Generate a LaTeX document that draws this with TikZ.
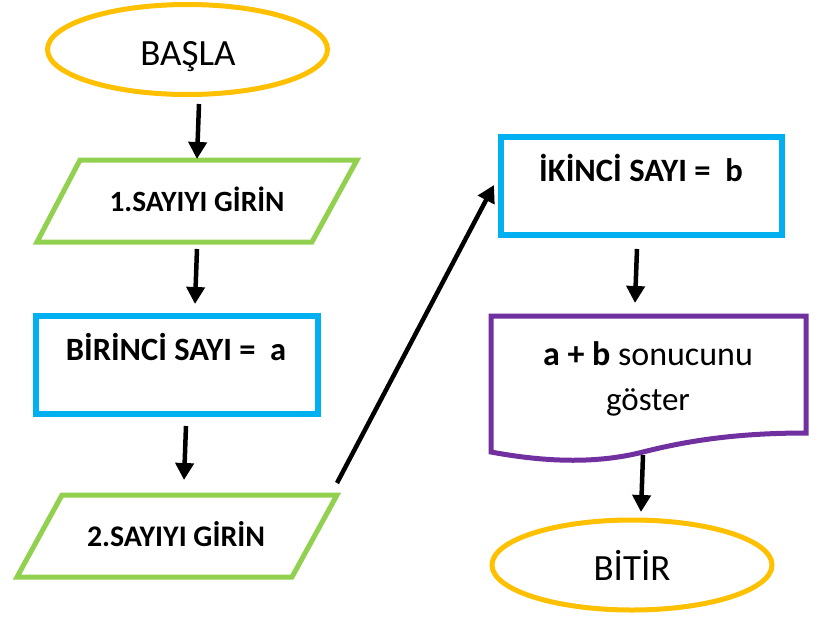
\documentclass[tikz,border=0pt]{standalone}
\usepackage{fontspec}
\setmainfont{Carlito}
\usetikzlibrary{arrows.meta,shapes.geometric}
\definecolor{cOrange}{HTML}{FFC000}
\definecolor{cGreen}{HTML}{92D050}
\definecolor{cBlue}{HTML}{00B0F0}
\definecolor{cPurple}{HTML}{7030A0}
\tikzset{
  term/.style={draw=cOrange,line width=5pt,ellipse,minimum width=280pt,minimum height=90pt,inner sep=0pt},
  procbox/.style={draw=cBlue,line width=5.5pt,rectangle,minimum width=282pt,minimum height=98pt,inner sep=0pt},
  iobox/.style={draw=cGreen,line width=5pt,line join=miter},
  docbox/.style={draw=cPurple,line width=5pt,line join=miter},
  flow/.style={line width=4.5pt,-{Triangle[length=17pt,width=18pt]}},
  lbl/.style={anchor=base,inner sep=0pt,text=black},
}
\begin{document}
\begin{tikzpicture}[x=1pt,y=-1pt]
\useasboundingbox (0,0) rectangle (827,616);
% shapes
\node[term] (start) at (187.5,49.5) {};
\draw[iobox] (80,160) -- (357,160) -- (312,242) -- (37,242) -- cycle;
\node[procbox] (r1) at (177,365) {};
\draw[iobox] (62,495) -- (337,495) -- (292,577) -- (17,577) -- cycle;
\node[procbox,minimum width=281pt] (r2) at (641.5,186) {};
\draw[docbox] (491,452) -- (491,316) -- (806,316) -- (806,433)
  .. controls (740,433) and (690,440) .. (643,452)
  .. controls (600,463) and (550,463) .. cycle;
\node[term] (stop) at (632,565) {};
% texts
\node[lbl,font=\fontsize{37}{42}\selectfont] (tstart) at (188,65) {BAŞLA};
\node[lbl,font=\fontsize{29.4}{34}\selectfont\bfseries] (tin1) at (197,211.7) {1.SAYIYI GİRİN};
\node[lbl,font=\fontsize{32.5}{37}\selectfont\bfseries] (tr1) at (176,360.7) {BİRİNCİ SAYI = \ a};
\node[lbl,font=\fontsize{29.9}{34}\selectfont\bfseries] (tin2) at (176,546.7) {2.SAYIYI GİRİN};
\node[lbl,font=\fontsize{32.6}{37}\selectfont\bfseries] (tr2) at (641,181.7) {İKİNCİ SAYI = \ b};
\node[lbl,font=\fontsize{34}{39}\selectfont] (tdoc1) at (648,365) {\textbf{a + b} sonucunu};
\node[lbl,font=\fontsize{33}{38}\selectfont] (tdoc2) at (648,410) {göster};
\node[lbl,font=\fontsize{37}{42}\selectfont] (tstop) at (632,580) {BİTİR};
% connector end points
\coordinate (a1s) at (199,104); \coordinate (a1e) at (197,159);
\coordinate (a2s) at (197,249); \coordinate (a2e) at (195,304);
\coordinate (a3s) at (186,426); \coordinate (a3e) at (184,480);
\coordinate (a4s) at (337,483); \coordinate (a4e) at (494,185);
\coordinate (a5s) at (637,249); \coordinate (a5e) at (635,303);
\coordinate (a6s) at (643,455); \coordinate (a6e) at (641,512);
\draw[flow] (a1s) -- (a1e);
\draw[flow] (a2s) -- (a2e);
\draw[flow] (a3s) -- (a3e);
\draw[flow] (a4s) -- (a4e);
\draw[flow] (a5s) -- (a5e);
\draw[flow] (a6s) -- (a6e);
\end{tikzpicture}
\end{document}
